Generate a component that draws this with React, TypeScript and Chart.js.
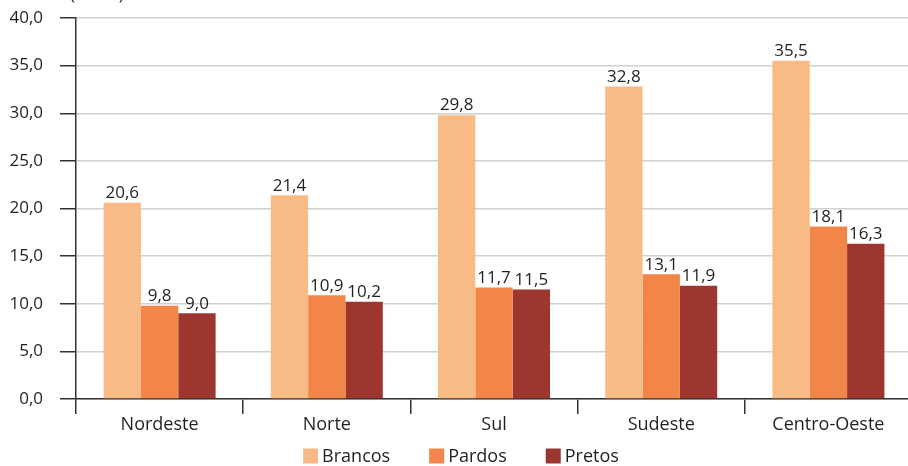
import React, { useEffect, useRef } from "react";
import { Chart, registerables } from "chart.js";

Chart.register(...registerables);

const categories = ["Nordeste", "Norte", "Sul", "Sudeste", "Centro-Oeste"];
const brancos = [20.6, 21.4, 29.8, 32.8, 35.5];
const pardos = [9.8, 10.9, 11.7, 13.1, 18.1];
const pretos = [9.0, 10.2, 11.5, 11.9, 16.3];
const seriesNames = ["Brancos", "Pardos", "Pretos"];
const seriesColors = ["#F9BB85", "#F28548", "#9E3630"];
const unitLabel = "(Em %)";

const FONT = "'Open Sans', 'Noto Sans', sans-serif";
const TEXT = "#231f20";
const fmt = (v: number) => v.toFixed(1).replace(".", ",");

export default function App() {
  const ref = useRef<HTMLCanvasElement | null>(null);
  useEffect(() => {
    if (!ref.current) return;
    const labelPlugin = {
      id: "valueLabels",
      afterDatasetsDraw(chart: any) {
        const ctx = chart.ctx;
        ctx.save();
        ctx.font = `17px ${FONT}`;
        ctx.fillStyle = TEXT;
        ctx.textAlign = "center";
        ctx.textBaseline = "bottom";
        chart.data.datasets.forEach((ds: any, i: number) => {
          const meta = chart.getDatasetMeta(i);
          meta.data.forEach((bar: any, j: number) => {
            ctx.fillText(fmt(ds.data[j]), bar.x, bar.y - 1);
          });
        });
        // unit label (partly cut off at the top)
        ctx.textAlign = "left";
        ctx.font = `17px ${FONT}`;
        ctx.fillText(unitLabel, 70, 4);

        // custom legend
        ctx.font = `18px ${FONT}`;
        ctx.textBaseline = "middle";
        const cy = 457;
        const box = 15;
        const gap = 4;
        const spacing = 39;
        const widths = seriesNames.map((n) => box + gap + ctx.measureText(n).width);
        const total = widths.reduce((a, b) => a + b, 0) + spacing * (seriesNames.length - 1);
        let x = 461 - total / 2;
        seriesNames.forEach((n, i) => {
          ctx.fillStyle = seriesColors[i];
          ctx.fillRect(x, cy - box / 2 - 1, box, box);
          ctx.fillStyle = TEXT;
          ctx.fillText(n, x + box + gap, cy);
          x += widths[i] + spacing;
        });
        ctx.restore();
      },
    };
    const chart = new Chart(ref.current, {
      type: "bar",
      data: {
        labels: categories,
        datasets: [brancos, pardos, pretos].map((d, i) => ({
          label: seriesNames[i],
          data: d,
          backgroundColor: seriesColors[i],
          borderWidth: 0,
          barPercentage: 1,
          categoryPercentage: 0.67,
        })),
      },
      options: {
        animation: false,
        responsive: false,
        maintainAspectRatio: false,
        layout: { padding: { top: 18, left: 0, right: 0, bottom: 33 } },
        plugins: {
          tooltip: { enabled: false },
          legend: { display: false },
        },
        scales: {
          x: {
            offset: true,
            grid: {
              display: true,
              offset: true,
              drawOnChartArea: false,
              tickLength: 15,
              tickColor: "#333",
              lineWidth: 1.5,
            },
            border: { display: true, color: "#333", width: 1.5 },
            ticks: {
              color: TEXT,
              font: { family: FONT, size: 18 },
              padding: 0,
            },
            afterFit(scale: any) {
              scale.height = 34;
              scale.paddingLeft = 0;
              scale.paddingRight = 0;
            },
          },
          y: {
            min: 0,
            max: 40,
            ticks: {
              stepSize: 5,
              color: TEXT,
              font: { family: FONT, size: 17 },
              padding: 17,
              callback: (v: any) => fmt(Number(v)),
            },
            grid: {
              color: "#d0d0d0",
              lineWidth: 1.5,
              tickLength: 16,
              tickColor: "#333",
            },
            border: { display: true, color: "#333", width: 1.5 },
            afterFit(scale: any) {
              scale.width = 76;
              scale.paddingTop = 0;
              scale.paddingBottom = 0;
            },
          },
        },
      },
      plugins: [labelPlugin],
    } as any);
    return () => chart.destroy();
  }, []);
  return (
    <div style={{ position: "absolute", left: 0, top: 0, width: 908, height: 466, overflow: "hidden" }}>
      <canvas ref={ref} width={912} height={466} style={{ display: "block" }} />
    </div>
  );
}
